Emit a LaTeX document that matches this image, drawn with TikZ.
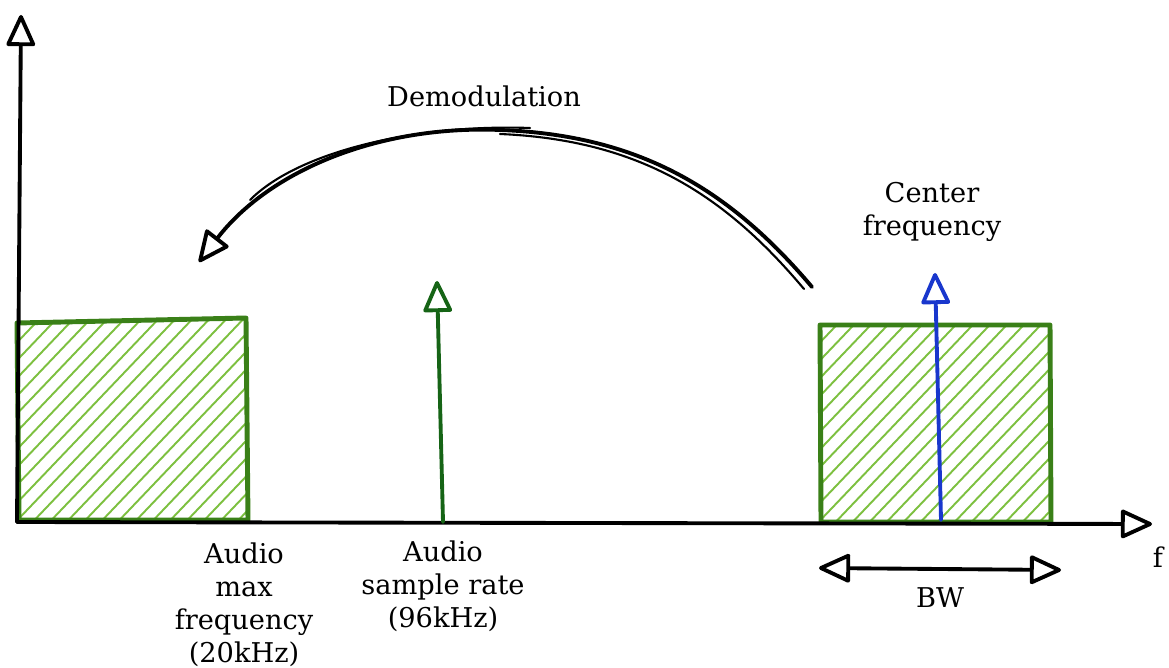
\documentclass[tikz,border=0pt]{standalone}
\usepackage{fontspec}
\setmainfont{DejaVu Serif}
\usetikzlibrary{arrows.meta}
\definecolor{boxgreen}{RGB}{58,128,24}
\definecolor{hatchgreen}{RGB}{125,192,64}
\definecolor{arrgreen}{RGB}{22,100,22}
\definecolor{arrblue}{RGB}{25,55,205}
\tikzset{
  sk/.style={line width=2.2pt, line cap=round, line join=round},
  head/.tip={Triangle[open,length=0.68cm,width=0.6cm,line width=2.2pt,round]},
  tip/.style={-head},
  lbl/.style={font=\fontsize{15.5pt}{18.8pt}\selectfont, align=center, inner sep=0pt},
  boxline/.style={line width=2.8pt, draw=boxgreen, line join=round},
  hatch/.style={line width=1.1pt, draw=hatchgreen},
}
\begin{document}
\begin{tikzpicture}[x=0.02cm,y=-0.02cm]
\useasboundingbox (0,0) rectangle (1169,668);
% hatched boxes
\begin{scope}
  \clip (17,323) -- (246,318) -- (248,520) -- (19,520) -- cycle;
  \foreach \a in {-230,-213,...,260} \draw[hatch] (\a,530) -- (\a+210,310);
\end{scope}
\begin{scope}
  \clip (820,325) -- (1050,325) -- (1051,522) -- (821,522) -- cycle;
  \foreach \a in {590,607,...,1060} \draw[hatch] (\a,530) -- (\a+210,310);
\end{scope}
\draw[boxline] (17,323) -- (246,318) -- (248,520) -- (19,520) -- cycle;
\draw[boxline] (820,325) -- (1050,325) -- (1051,522) -- (821,522) -- cycle;
% axes
\coordinate (o) at (17,522);
\coordinate (ytop) at (21,15);
\coordinate (xend) at (1152,524);
\draw[sk,tip] (o) -- (ytop);
\draw[sk,tip] (o) -- (xend);
\node[lbl] (f) at (1158,557) {f};
% green arrow
\coordinate (ga) at (443,522);
\coordinate (gb) at (437,281);
\draw[sk,tip,draw=arrgreen] (ga) -- (gb);
% blue arrow
\coordinate (ba) at (941,520);
\coordinate (bb) at (935,273);
\draw[sk,tip,draw=arrblue] (ba) -- (bb);
% demodulation curve
\coordinate (cs) at (812,287);
\coordinate (cm) at (500,130);
\coordinate (ce) at (199,262);
\draw[sk,tip] (cs) .. controls (730,190) and (640,135) .. (cm) .. controls (380,125) and (270,170) .. (ce);
\draw[line width=1.2pt, line cap=round] (804,289) .. controls (725,195) and (640,140) .. (500,134);
\draw[line width=1.2pt, line cap=round] (530,128) .. controls (420,124) and (300,150) .. (250,200);
% BW
\coordinate (bwl) at (819,568);
\coordinate (bwr) at (1061,570);
\draw[sk,head-head] (bwl) -- (bwr);
% labels
\node[lbl] (demod) at (484,96) {Demodulation};
\node[lbl] (center) at (932,212) {Center\\frequency};
\node[lbl] (amax) at (244,605) {Audio\\max\\frequency\\(20kHz)};
\node[lbl] (asr) at (443,586) {Audio\\sample rate\\(96kHz)};
\node[lbl] (bw) at (940,598) {BW};
\end{tikzpicture}
\end{document}
